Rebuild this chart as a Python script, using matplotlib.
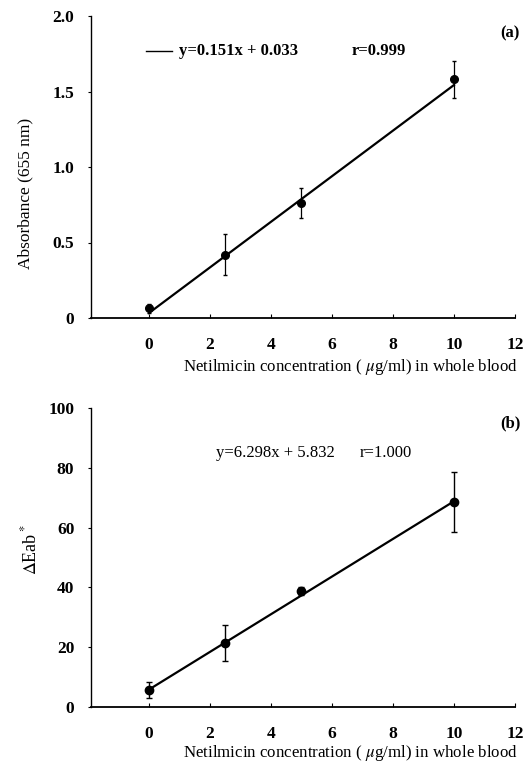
import matplotlib
matplotlib.use("Agg")
import matplotlib.pyplot as plt
import numpy as np

# --- data ---
conc = [0, 2.5, 5, 10]

absorb = [0.065, 0.42, 0.76, 1.58]
absorb_err = [0.03, 0.135, 0.10, 0.12]
fit_a = (0.151, 0.033)

deab = [5.7, 21.4, 38.8, 68.6]
deab_err = [2.8, 6.0, 1.5, 10.0]
fit_b = (6.298, 5.832)

xticks = [0, 2, 4, 6, 8, 10, 12]
yticks_a = [0, 0.5, 1.0, 1.5, 2.0]
ylabels_a = ["0", "0.5", "1.0", "1.5", "2.0"]
yticks_b = [0, 20, 40, 60, 80, 100]

plt.rcParams["font.family"] = ["Liberation Serif", "DejaVu Serif"]
plt.rcParams["mathtext.fontset"] = "stix"

W, H = 529, 764
fig = plt.figure(figsize=(W / 100, H / 100), dpi=100)


def px(x0, y0, x1, y1):
    # pixel box (left, top, right, bottom) -> figure fractions
    return [x0 / W, 1 - y1 / H, (x1 - x0) / W, (y1 - y0) / H]


def style(ax, ylim, yticks, ylabels):
    ax.set_xlim(-1.9, 12)
    ax.set_ylim(*ylim)
    for s in ["top", "right"]:
        ax.spines[s].set_visible(False)
    ax.spines["left"].set_linewidth(1.0)
    ax.spines["bottom"].set_linewidth(1.3)
    ax.set_xticks(xticks)
    ax.set_yticks(yticks)
    ax.set_yticklabels(ylabels)
    ax.tick_params(axis="x", direction="in", length=3, pad=14, labelsize=12.5)
    ax.tick_params(axis="y", direction="out", length=2, pad=10, labelsize=12.5)
    for lab in ax.get_xticklabels() + ax.get_yticklabels():
        lab.set_fontweight("bold")


xfit = np.array([0, 10])

# (a) absorbance
ax1 = fig.add_axes(px(91, 16, 515, 318))
style(ax1, (0, 2.0), yticks_a, ylabels_a)
ax1.plot(xfit, fit_a[0] * xfit + fit_a[1], color="black", lw=1.6)
ax1.errorbar(conc, absorb, yerr=absorb_err, fmt="o", color="black",
             ms=5.5, elinewidth=0.9, capsize=1.5)
ax1.plot([-0.1, 0.75], [1.77, 1.77], color="black", lw=1.0)
ax1.text(1.0, 1.77, "y=0.151x + 0.033", fontsize=12, fontweight="bold", va="center")
ax1.text(6.65, 1.77, "r=0.999", fontsize=12, fontweight="bold", va="center")
fig.text(510 / W, 1 - 33 / H, "(a)", fontsize=12, fontweight="bold", ha="center", va="center")
fig.text(25 / W, 1 - 193 / H, "Absorbance (655 nm)", rotation=90, fontsize=12.5,
         ha="center", va="center")
fig.text(350 / W, 1 - 367 / H, "Netilmicin concentration ( $\\mu$g/ml) in whole blood",
         fontsize=12.2, ha="center", va="center")

# (b) colour difference
ax2 = fig.add_axes(px(91, 408, 515, 707))
style(ax2, (0, 100), yticks_b, [str(v) for v in yticks_b])
ax2.plot(xfit, fit_b[0] * xfit + fit_b[1], color="black", lw=1.6)
ax2.errorbar(conc, deab, yerr=deab_err, fmt="o", color="black",
             ms=6, elinewidth=1.0, capsize=2)
ax2.text(2.2, 85, "y=6.298x + 5.832", fontsize=12, va="center")
ax2.text(6.9, 85, "r=1.000", fontsize=12, va="center")
fig.text(510 / W, 1 - 423 / H, "(b)", fontsize=12, fontweight="bold", ha="center", va="center")
fig.text(30 / W, 1 - 550 / H, "$\\Delta$Eab$^*$", rotation=90, fontsize=13,
         ha="center", va="center")
fig.text(350 / W, 1 - 753 / H, "Netilmicin concentration ( $\\mu$g/ml) in whole blood",
         fontsize=12.2, ha="center", va="center")

fig.savefig("out.png", dpi=100)
